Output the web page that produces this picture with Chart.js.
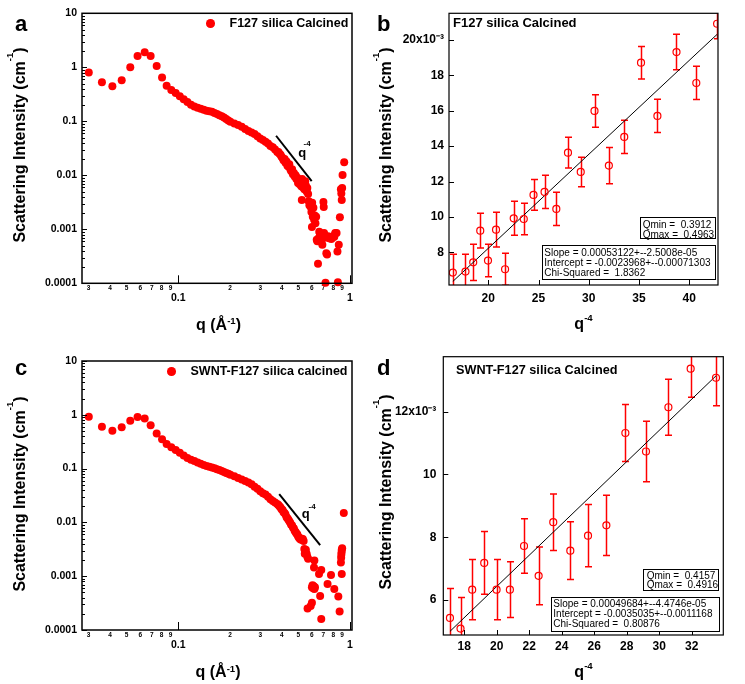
<!DOCTYPE html>
<html><head><meta charset="utf-8">
<script src="https://cdn.jsdelivr.net/npm/chart.js@4.4.1/dist/chart.umd.min.js"></script>
<style>
html,body{margin:0;padding:0;background:#fff;}
body{width:745px;height:684px;position:relative;overflow:hidden;font-family:"Liberation Sans",Arial,sans-serif;}
canvas{position:absolute;}
.t{position:absolute;white-space:pre;line-height:1;color:#000;}
.box{position:absolute;border:1px solid #000;background:#fff;box-sizing:border-box;}
.sup{font-size:0.6em;position:relative;}
.dot{position:absolute;border-radius:50%;background:#ff0000;}
</style></head><body>
<canvas id="ca" width="370" height="340" style="left:0;top:0"></canvas>
<canvas id="cb" width="375" height="340" style="left:370px;top:0"></canvas>
<canvas id="cc" width="370" height="344" style="left:0;top:340px"></canvas>
<canvas id="cd" width="375" height="344" style="left:370px;top:340px"></canvas>
<script>
// ---------- DATA ----------
// Panel a: F127 silica Calcined (log-log)
const qA = [0.0301,0.0359,0.0413,0.0468,0.0525,0.0579,0.0637,0.0690,0.0748,0.0804,0.0855,0.0910,0.0965,
0.1020,0.1075,0.1130,0.1185,0.1240,0.1295,0.1350,0.1405,0.1460,0.1515,0.1570,0.1625,0.1680,0.1735,0.1790,0.1845,0.1900,0.1955,0.2010,
0.212,0.223,0.234,0.245,0.256,0.267,0.278,0.289,0.300,0.311,0.322,0.333,0.344,0.355,0.366,0.377,
0.383,0.388,0.394,0.399,0.405,0.410,0.416,0.421,0.427,0.432,0.438,0.443,0.449,0.454,0.460,0.465,0.471,0.476,0.482,0.487,0.493,0.498,0.504,0.509,0.515,0.520,0.524,0.526,0.531,0.537,0.542,0.548,0.553,0.559,0.564,0.570,
0.575,0.580,0.585,0.590,0.596,0.600,0.602,0.607,0.612,0.618,0.623,0.629,0.635,0.640,0.645,0.651,0.656,0.662,0.667,0.673,0.680,0.690,0.700,0.703,0.706,0.710,0.720,0.728,0.735,0.745,0.755,0.765,0.778,0.790,0.800,0.810,0.820,0.835,0.845,0.850,0.860,0.873,0.885,0.890,0.895,0.900,0.905,0.925];
const iA = [0.80,0.53,0.445,0.574,1.0,1.62,1.90,1.62,1.06,0.644,0.457,0.38,0.335,
0.29,0.257,0.228,0.203,0.188,0.178,0.170,0.163,0.157,0.154,0.150,0.143,0.136,0.130,0.124,0.117,0.110,0.104,0.098,
0.091,0.085,0.079,0.072,0.066,0.062,0.058,0.053,0.048,0.045,0.042,0.039,0.035,0.033,0.030,0.027,
0.027,0.025,0.024,0.022,0.021,0.019,0.020,0.017,0.018,0.015,0.0145,0.016,0.013,0.012,0.013,0.0105,0.011,0.0095,0.010,0.0085,0.0090,0.0072,0.0080,0.0068,0.0075,0.0063,0.0035,0.0085,0.0060,0.0072,0.0055,0.0078,0.0065,0.0050,0.0058,0.0045,
0.0033,0.0028,0.0031,0.0026,0.0021,0.0011,0.0031,0.0017,0.0025,0.0015,0.0018,0.0013,0.0017,0.00064,0.00060,0.00023,0.00068,0.00090,0.00085,0.00062,0.00058,0.00052,0.0032,0.0026,0.00085,0.00070,0.000102,0.00036,0.00034,0.00074,0.00068,0.00072,0.00066,0.00070,0.00075,0.00073,0.00085,0.00085,0.00039,0.000105,0.00052,0.00168,0.0055,0.0046,0.0035,0.0058,0.0101,0.0175];
const slopeLineAq = [0.371, 0.598];
const slopeLineAi = [0.054, 0.00783];

// Panel c: SWNT-F127 silica calcined (log-log)
const qC = [0.0301,0.0359,0.0413,0.0468,0.0525,0.0579,0.0637,0.0690,0.0748,0.0804,0.0855,0.0910,0.0965,
0.1020,0.1075,0.1130,0.1185,0.1240,0.1295,0.1350,0.1405,0.1460,0.1515,0.1570,0.1625,0.1680,0.1735,0.1790,0.1845,0.1900,0.1955,0.2010,
0.212,0.223,0.234,0.245,0.256,0.267,0.278,0.289,0.300,0.311,0.322,0.333,0.344,0.355,0.366,0.377,
0.383,0.388,0.394,0.399,0.405,0.410,0.416,0.421,0.427,0.432,0.438,0.443,0.449,0.454,0.460,0.465,0.471,0.476,0.482,0.487,0.493,0.498,0.504,0.509,0.515,0.520,0.526,0.531,0.537,0.542,0.545,0.548,0.553,0.559,0.564,0.570,
0.600,0.605,0.610,0.615,0.620,0.625,0.617,0.620,0.660,0.680,0.670,0.680,0.566,0.590,0.600,0.740,0.775,0.810,0.855,0.870,0.895,0.885,0.888,0.890,0.893,0.895,0.900,0.920];
const iC = [0.92,0.60,0.506,0.586,0.776,0.91,0.85,0.64,0.45,0.35,0.287,0.249,0.222,
0.198,0.175,0.158,0.146,0.138,0.130,0.123,0.117,0.112,0.108,0.105,0.101,0.097,0.094,0.090,0.086,0.083,0.080,0.077,
0.072,0.067,0.063,0.059,0.055,0.051,0.046,0.042,0.038,0.035,0.033,0.030,0.027,0.025,0.0235,0.022,
0.021,0.020,0.019,0.0175,0.017,0.0155,0.015,0.014,0.0125,0.012,0.0112,0.0105,0.0098,0.0090,0.0088,0.0080,0.0077,0.0070,0.0066,0.0062,0.0060,0.0055,0.0052,0.0050,0.0048,0.0050,0.0047,0.0049,0.0045,0.0032,0.0026,0.0029,0.0031,0.0026,0.0023,0.0021,
0.00062,0.00068,0.00060,0.00065,0.00058,0.00062,0.00145,0.00195,0.0011,0.0013,0.00043,0.00016,0.00025,0.00028,0.00032,0.00072,0.00105,0.00058,0.00042,0.00022,0.0011,0.0018,0.0022,0.0025,0.0028,0.0031,0.0033,0.015];
const slopeLineCq = [0.387, 0.67];
const slopeLineCi = [0.0337, 0.0038];

// Panel b: I vs q^-4 with error bars and fit
const xB = [16.47,17.73,18.5,19.2,19.97,20.77,21.67,22.53,23.53,24.5,25.6,26.77,27.93,29.2,30.57,32.0,33.53,35.2,36.83,38.73,40.7,42.77];
const yB = [6.85,6.91,7.43,9.22,7.53,9.28,7.04,9.92,9.88,11.24,11.41,10.45,13.63,12.54,15.99,12.9,14.52,18.72,15.71,19.32,17.57,20.92];
const eB = [1.04,0.98,1.02,0.98,0.92,0.98,0.9,0.96,0.89,0.87,0.94,0.94,0.87,0.83,0.92,1.02,0.94,0.92,0.94,1.0,0.94,0.85];
const fitBx = [16.47, 42.77];
const fitBy = [6.35, 20.32];

// Panel d
const xD = [17.12,17.77,18.49,19.23,19.99,20.81,21.68,22.58,23.48,24.53,25.62,26.75,27.92,29.19,30.57,31.94,33.5];
const yD = [5.43,5.09,6.33,7.18,6.33,6.33,7.72,6.77,8.48,7.57,8.05,8.38,11.32,10.73,12.14,13.37,13.08];
const eD = [0.94,0.99,0.96,1.0,0.96,0.89,0.87,0.92,0.90,0.92,0.99,0.96,0.91,0.96,0.89,0.91,0.89];
const fitDx = [17.12, 33.5];
const fitDy = [5.0, 13.14];

// Tick labels
const logXTicks = [0.03,0.04,0.05,0.06,0.07,0.08,0.09,0.1,0.2,0.3,0.4,0.5,0.6,0.7,0.8,0.9,1];
const logXText  = ['3','4','5','6','7','8','9','0.1','2','3','4','5','6','7','8','9','1'];
const logYDecades = [0.0001,0.001,0.01,0.1,1,10];
const logYText    = ['0.0001','0.001','0.01','0.1','1','10'];
const xTicksB = [20,25,30,35,40];
const yTicksB = [8,10,12,14,16,18,20];
const yTextB  = ['8','10','12','14','16','18','20x10\u207B\u00B3'];
const xTicksD = [18,20,22,24,26,28,30,32];
const yTicksD = [6,8,10,12];
const yTextD  = ['6','8','10','12x10\u207B\u00B3'];

// ---------- CHART HELPERS ----------
Chart.defaults.font.family = "'Liberation Sans', Arial, sans-serif";
Chart.defaults.color = '#000';
const RED = '#ff0000';
const isMajorX = v => v != null && (Math.abs(v - 0.1) < 1e-9 || Math.abs(v - 1) < 1e-9);
const isDecade = v => Math.abs(Math.log10(v) - Math.round(Math.log10(v))) < 1e-6;
const pts = (xs, ys) => xs.map((x, i) => ({x, y: ys[i]}));

const frameTicks = {
  id: 'frameTicks',
  afterDatasetsDraw(chart, args, o) {
    const {ctx, chartArea: a, scales} = chart;
    ctx.save();
    ctx.strokeStyle = '#000';
    ctx.lineWidth = 1;
    const ys = scales.y, xs = scales.x;
    ys.ticks.forEach(t => {
      const p = Math.round(ys.getPixelForValue(t.value)) + 0.5;
      if (p < a.top - 1 || p > a.bottom + 1) return;
      const len = o.log ? (isDecade(t.value) ? 5 : 3) : o.len;
      ctx.beginPath(); ctx.moveTo(a.left, p); ctx.lineTo(a.left + len, p); ctx.stroke();
    });
    xs.ticks.forEach(t => {
      const p = Math.round(xs.getPixelForValue(t.value)) + 0.5;
      let len = o.len;
      if (o.log) len = isMajorX(t.value) ? 8 : 0;
      if (!len) return;
      ctx.beginPath(); ctx.moveTo(p, a.bottom); ctx.lineTo(p, a.bottom - len); ctx.stroke();
    });
    ctx.lineWidth = o.fw;
    ctx.strokeRect(a.left, a.top, a.right - a.left, a.bottom - a.top);
    ctx.restore();
  }
};

const errBars = {
  id: 'errBars',
  beforeDatasetsDraw(chart, args, o) {
    if (!o.err) return;
    const {ctx, chartArea: a, scales} = chart;
    const ds = chart.data.datasets[0].data;
    ctx.save();
    ctx.beginPath(); ctx.rect(a.left, a.top, a.right - a.left, a.bottom - a.top); ctx.clip();
    ctx.strokeStyle = RED; ctx.lineWidth = 1.5;
    ds.forEach((d, i) => {
      const x = Math.round(scales.x.getPixelForValue(d.x)) + 0.5;
      const y1 = scales.y.getPixelForValue(d.y - o.err[i]);
      const y2 = scales.y.getPixelForValue(d.y + o.err[i]);
      ctx.beginPath();
      ctx.moveTo(x, y1); ctx.lineTo(x, y2);
      ctx.moveTo(x - 3.5, y1); ctx.lineTo(x + 3.5, y1);
      ctx.moveTo(x - 3.5, y2); ctx.lineTo(x + 3.5, y2);
      ctx.stroke();
    });
    ctx.restore();
  }
};

function logChart(id, q, I, lq, li, pad) {
  return new Chart(document.getElementById(id), {
    type: 'scatter',
    data: { datasets: [
      { data: pts(q, I), pointRadius: 4, pointBackgroundColor: RED, pointBorderWidth: 0, pointBorderColor: RED, clip: false },
      { data: pts(lq, li), showLine: true, borderColor: '#000', borderWidth: 2, pointRadius: 0 }
    ]},
    options: {
      responsive: false, animation: false, devicePixelRatio: 1, events: [],
      layout: { padding: pad },
      plugins: { legend: {display: false}, tooltip: {enabled: false}, frameTicks: {log: true, fw: 1.5} },
      scales: {
        x: { type: 'logarithmic', min: 0.02748, max: 1.027,
          afterBuildTicks: s => { s.ticks = logXTicks.map(v => ({value: v})); },
          afterFit: s => { s.height = 30; s.paddingLeft = 0; s.paddingRight = 0; },
          grid: {display: false, drawTicks: false}, border: {display: false},
          ticks: { autoSkip: false, maxRotation: 0, minRotation: 0, padding: 1, color: '#000',
            font: c => isMajorX(c.tick && c.tick.value) ? {size: 10.5, weight: 'bold', lineHeight: 0.9} : {size: 6.5, weight: 'bold', lineHeight: 1.2},
            callback: (v, i) => isMajorX(v) ? ['', logXText[i]] : logXText[i] } },
        y: { type: 'logarithmic', min: 0.0001, max: 10,
          afterBuildTicks: s => { const t = []; logYDecades.forEach(d => { for (let m = 1; m <= 9; m++) { const v = +(m * d).toPrecision(3); if (v <= 10) t.push({value: v}); } }); s.ticks = t; },
          afterFit: s => { s.width = 82; s.paddingTop = 0; s.paddingBottom = 0; },
          grid: {display: false, drawTicks: false}, border: {display: false},
          ticks: { autoSkip: false, padding: 5, color: '#000', font: {size: 10.5, weight: 'bold'},
            callback: v => { if (!isDecade(v)) return ''; const k = logYDecades.findIndex(d => Math.abs(Math.log10(d) - Math.log10(v)) < 1e-6); return k >= 0 ? logYText[k] : ''; } } }
      }
    },
    plugins: [frameTicks]
  });
}

function linChart(id, xs, ys, err, fx, fy, xr, yr, xt, yt, ytext, yw, pad, xpad, ypad) {
  return new Chart(document.getElementById(id), {
    type: 'scatter',
    data: { datasets: [
      { data: pts(xs, ys), pointRadius: 3.5, pointBackgroundColor: 'rgba(0,0,0,0)', pointBorderColor: RED, pointBorderWidth: 1.2 },
      { data: pts(fx, fy), showLine: true, borderColor: '#000', borderWidth: 1, pointRadius: 0 }
    ]},
    options: {
      responsive: false, animation: false, devicePixelRatio: 1, events: [],
      layout: { padding: pad },
      plugins: { legend: {display: false}, tooltip: {enabled: false}, frameTicks: {log: false, fw: 1.2, len: 5}, errBars: {err} },
      scales: {
        x: { type: 'linear', min: xr[0], max: xr[1],
          afterBuildTicks: s => { s.ticks = xt.map(v => ({value: v})); },
          afterFit: s => { s.height = 30; s.paddingLeft = 0; s.paddingRight = 0; },
          grid: {display: false, drawTicks: false}, border: {display: false},
          ticks: { autoSkip: false, maxRotation: 0, padding: xpad, color: '#000', font: {size: 12, weight: 'bold'}, callback: v => String(v) } },
        y: { type: 'linear', min: yr[0], max: yr[1],
          afterBuildTicks: s => { s.ticks = yt.map(v => ({value: v})); },
          afterFit: s => { s.width = yw; s.paddingTop = 0; s.paddingBottom = 0; },
          grid: {display: false, drawTicks: false}, border: {display: false},
          ticks: { autoSkip: false, padding: ypad, color: '#000', font: {size: 12, weight: 'bold'}, callback: (v, i) => ytext[i] } }
      }
    },
    plugins: [frameTicks, errBars]
  });
}

logChart('ca', qA, iA, slopeLineAq, slopeLineAi, {left: 0, right: 18, top: 13.3, bottom: 26.7});
logChart('cc', qC, iC, slopeLineCq, slopeLineCi, {left: 0, right: 18, top: 21, bottom: 24});
linChart('cb', xB, yB, eB, fitBx, fitBy, [16.09, 42.86], [6.15, 21.51], xTicksB, yTicksB, yTextB, 79, {left: 0, right: 27, top: 13.3, bottom: 25}, 6, 5);
linChart('cd', xD, yD, eD, fitDx, fitDy, [16.71, 33.95], [4.885, 13.75], xTicksD, yTicksD, yTextD, 73.3, {left: 0, right: 21.7, top: 16.7, bottom: 19}, 4, 7);

// ---------- TEXT ----------
function T(html, x, base, size, o = {}) {
  const d = document.createElement('div');
  d.className = 't';
  d.style.fontSize = size + 'px';
  d.style.fontWeight = o.normal ? 'normal' : 'bold';
  d.innerHTML = html;
  d.style.top = (base - 0.8465 * size) + 'px';
  d.style.left = x + 'px';
  if (o.center) d.style.transform = 'translateX(-50%)';
  document.body.appendChild(d);
  return d;
}
function R(html, cx, cy, size) {
  const d = document.createElement('div');
  d.className = 't';
  d.style.fontSize = size + 'px';
  d.style.fontWeight = 'bold';
  d.innerHTML = html;
  d.style.left = cx + 'px'; d.style.top = cy + 'px';
  d.style.transform = 'translate(-50%,-50%) rotate(-90deg)';
  document.body.appendChild(d);
}
function dot(cx, cy, r) {
  const d = document.createElement('div');
  d.className = 'dot';
  d.style.left = (cx - r) + 'px'; d.style.top = (cy - r) + 'px';
  d.style.width = d.style.height = (2 * r) + 'px';
  document.body.appendChild(d);
}
function box(l, t, w, h) {
  const d = document.createElement('div');
  d.className = 'box';
  d.style.left = l + 'px'; d.style.top = t + 'px'; d.style.width = w + 'px'; d.style.height = h + 'px';
  document.body.appendChild(d);
}
const ytitle = 'Scattering Intensity (cm<span class="sup" style="top:-1.3em">-1</span>)';
const qtitle = 'q (Å<span class="sup" style="top:-0.6em">-1</span>)';
const q4title = 'q<span class="sup" style="top:-0.85em">-4</span>';

// panel letters
T('a', 15, 31.7, 22); T('b', 377, 31.7, 22); T('c', 15, 375.7, 22); T('d', 377, 375.7, 22);
// y titles
R(ytitle, 19.5, 145, 16); R(ytitle, 385.5, 145, 16); R(ytitle, 19.5, 494, 16); R(ytitle, 385.5, 491.5, 16);
// x titles
T(qtitle, 218.5, 330.7, 16, {center: true}); T(qtitle, 218, 678, 16, {center: true});
T(q4title, 583.5, 330, 16, {center: true}); T(q4title, 583.5, 678, 16, {center: true});
// legends / titles
dot(210.7, 23.3, 4.3); T('F127 silica Calcined', 229.5, 27.3, 12.5);
dot(171.7, 371.7, 4.3); T('SWNT-F127 silica calcined', 190.5, 375.5, 12.5);
T('F127 silica Calcined', 453, 27.3, 13);
T('SWNT-F127 silica Calcined', 456, 375, 12.7);
// q^-4 annotations
T('q', 298.3, 157.3, 13); T('-4', 303.5, 147, 8);
T('q', 301.7, 518.3, 13); T('-4', 308.5, 509.5, 8);
// info boxes b
box(640, 217.3, 76, 22);
T('Qmin =  0.3912', 642.7, 228, 10, {normal: true});
T('Qmax =  0.4963', 642.7, 238, 10, {normal: true});
box(541.7, 245, 174.3, 35);
T('Slope = 0.00053122+--2.5008e-05', 544.3, 256.3, 10, {normal: true});
T('Intercept = -0.0023968+--0.00071303', 544.3, 266.3, 10, {normal: true});
T('Chi-Squared =  1.8362', 544.3, 276, 10, {normal: true});
// info boxes d
box(643.3, 569, 76, 22);
T('Qmin =  0.4157', 646.7, 579.3, 10, {normal: true});
T('Qmax =  0.4916', 646.7, 588.6, 10, {normal: true});
box(551, 596.5, 168.5, 35.5);
T('Slope = 0.00049684+--4.4746e-05', 553.3, 607, 10, {normal: true});
T('Intercept = -0.0035035+--0.0011168', 553.3, 617, 10, {normal: true});
T('Chi-Squared =  0.80876', 553.3, 627, 10, {normal: true});
</script>
</body></html>
